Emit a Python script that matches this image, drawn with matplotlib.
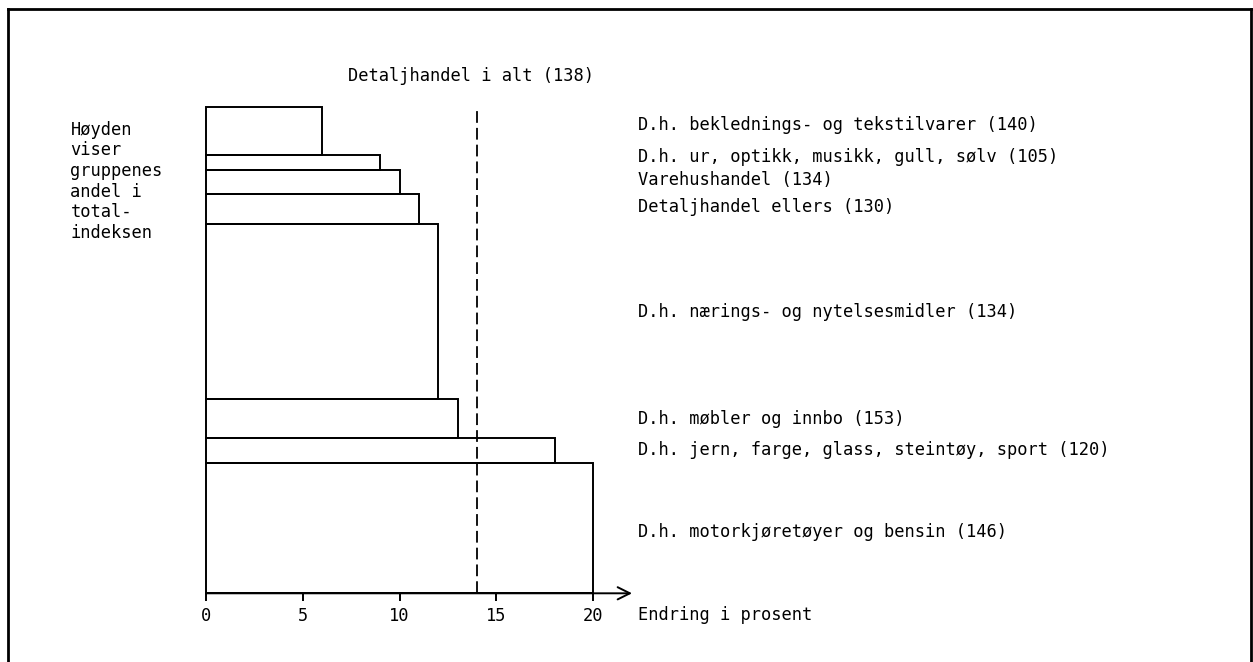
import matplotlib
matplotlib.use("Agg")
import matplotlib.pyplot as plt
from matplotlib.lines import Line2D
import numpy as np

# ---- data (bottom to top) ----
categories = [
    "D.h. motorkjøretøyer og bensin",
    "D.h. jern, farge, glass, steintøy, sport",
    "D.h. møbler og innbo",
    "D.h. nærings- og nytelsesmidler",
    "Detaljhandel ellers",
    "Varehushandel",
    "D.h. ur, optikk, musikk, gull, sølv",
    "D.h. beklednings- og tekstilvarer",
]
change_pct = [20, 18, 13, 12, 11, 10, 9, 6]          # Endring i prosent
weight_share = [26.8, 5.1, 8.0, 36.0, 6.1, 5.0, 3.0, 10.0]  # andel i totalindeksen
index_values = [146, 120, 153, 134, 130, 134, 105, 140]
total_label = "Detaljhandel i alt"
total_index = 138
total_change = 14
xticks = [0, 5, 10, 15, 20]
xlabel = "Endring i prosent"
left_note = ["Høyden", "viser", "gruppenes", "andel i", "total-", "indeksen"]

# label vertical nudges (points) relative to bar centre
label_nudge = [-2.9, 0.0, 0.0, 0.0, 1.4, 1.4, 4.0, 4.3]

FONT = "DejaVu Sans Mono"
FS = 12.25

W, H = 1253, 662
fig = plt.figure(figsize=(W / 100, H / 100), dpi=100)
fig.patch.set_facecolor("white")

# axes: x 0..20 maps to px 206..593.3, y 0..100 maps to px 593.3..106.7
x0, x1 = 206.0, 593.3
ytop, ybot = 106.7, 593.3
ax = fig.add_axes([x0 / W, (H - ybot) / H, (x1 - x0) / W, (ybot - ytop) / H])
ax.set_xlim(0, 20)
ax.set_ylim(0, 100)
ax.patch.set_alpha(0)
for s in ax.spines.values():
    s.set_visible(False)

bottoms = np.concatenate([[0], np.cumsum(weight_share)[:-1]])
ax.barh(bottoms, change_pct, height=weight_share, left=0, align="edge",
        facecolor="none", edgecolor="black", linewidth=1.4, clip_on=False)

# dashed total line
ax.vlines(total_change, 0, 100, colors="black", linewidth=1.3,
          linestyles=(0, (6.5, 2.8)), clip_on=False)

# x axis with arrow
ax.annotate("", xy=(22.0, 0), xytext=(0, 0), xycoords="data",
            arrowprops=dict(arrowstyle="->", lw=1.4, color="black",
                            mutation_scale=22, shrinkA=0, shrinkB=0),
            annotation_clip=False)
ax.set_xticks(xticks)
ax.set_xticklabels([str(t) for t in xticks], fontfamily=FONT, fontsize=FS)
ax.tick_params(axis="x", direction="out", length=6, width=1.4, pad=4)
ax.set_yticks([])

# right-hand labels
for cat, idx, b, w, nud in zip(categories, index_values, bottoms, weight_share, label_nudge):
    ax.annotate(f"{cat} ({idx})", xy=(22.3, b + w / 2), xytext=(0, nud),
                textcoords="offset points", ha="left", va="center",
                fontfamily=FONT, fontsize=FS, annotation_clip=False)

# total label
ax.text(total_change - 0.3, 106.4, f"{total_label} ({total_index})", ha="center", va="center",
        fontfamily=FONT, fontsize=FS, clip_on=False)

# x label
ax.text(22.3, -4.5, xlabel, ha="left", va="center",
        fontfamily=FONT, fontsize=FS, clip_on=False)

# left note
ax.text(-7.0, 97.1, "\n".join(left_note), ha="left", va="top",
        fontfamily=FONT, fontsize=FS, linespacing=1.185, clip_on=False)

# outer frame (top, left, right)
lw_frame = 2.0
fig.add_artist(Line2D([7.5 / W, 7.5 / W], [0, 1 - 9 / H], color="black", lw=lw_frame))
fig.add_artist(Line2D([7.5 / W, 1251 / W], [1 - 9 / H, 1 - 9 / H], color="black", lw=lw_frame))
fig.add_artist(Line2D([1251 / W, 1251 / W], [0, 1 - 9 / H], color="black", lw=lw_frame))

fig.savefig("out.png", dpi=100)
